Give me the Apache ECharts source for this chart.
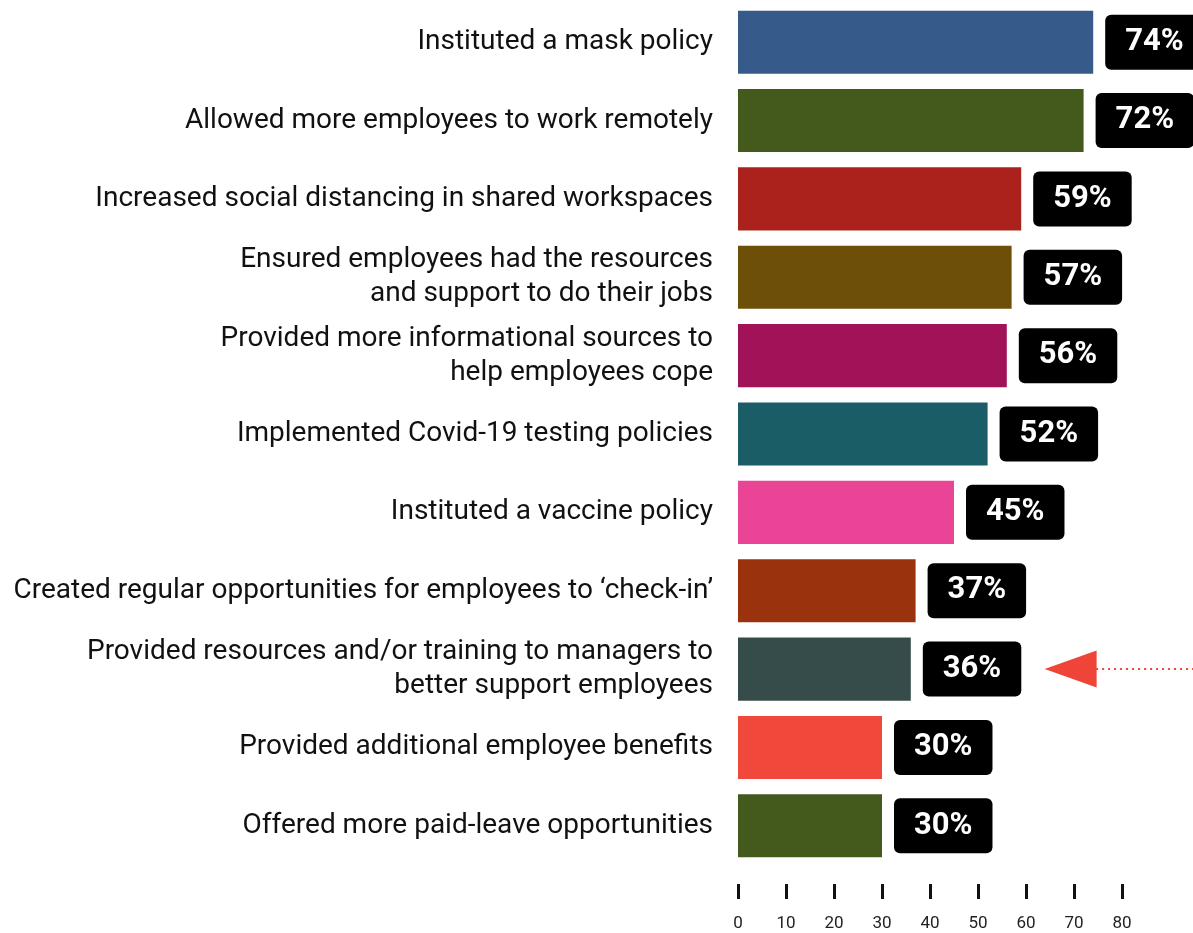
<!DOCTYPE html>
<html>
<head>
<meta charset="utf-8">
<script src="https://cdn.jsdelivr.net/npm/echarts@6/dist/echarts.min.js"></script>
<style>
  html, body { margin: 0; padding: 0; background: #fff; }
  #chart { width: 1193px; height: 933px; }
</style>
</head>
<body>
<div id="chart"></div>
<script>
// Workplace measures taken, share of respondents (%)
const categories = [
  'Instituted a mask policy',
  'Allowed more employees to work remotely',
  'Increased social distancing in shared workspaces',
  'Ensured employees had the resources\nand support to do their jobs',
  'Provided more informational sources to\nhelp employees cope',
  'Implemented Covid-19 testing policies',
  'Instituted a vaccine policy',
  'Created regular opportunities for employees to \u2018check-in\u2019',
  'Provided resources and/or training to managers to\nbetter support employees',
  'Provided additional employee benefits',
  'Offered more paid-leave opportunities'
];
const values = [74, 72, 59, 57, 56, 52, 45, 37, 36, 30, 30];
const barColors = [
  '#365a89', '#445a1c', '#aa221b', '#6d4f08', '#a21259', '#1b5d66',
  '#ea4496', '#9a330d', '#364c4a', '#f0493b', '#445a1c'
];
const xTicks = { min: 0, max: 80, interval: 10 };
// Highlighted row and the pointer that marks it (axis units)
const highlightIndex = 8;
const pointerTip = 69.3;
const pointerLine = [74.6, 96];
const pointerColor = '#ef4539';

const chart = echarts.init(document.getElementById('chart'), null, { renderer: 'canvas' });

chart.setOption({
  animation: false,
  backgroundColor: '#ffffff',
  textStyle: { fontFamily: 'Roboto' },
  grid: { left: 738, right: 71, top: 3, bottom: 68, containLabel: false },
  xAxis: {
    type: 'value',
    min: xTicks.min,
    max: xTicks.max,
    interval: xTicks.interval,
    offset: 19,
    splitLine: { show: false },
    axisLine: { show: false },
    axisTick: { show: true, length: 15, lineStyle: { color: '#111', width: 3 } },
    axisLabel: { color: '#222', fontSize: 17, fontFamily: 'Roboto', margin: 31 }
  },
  yAxis: {
    type: 'category',
    inverse: true,
    data: categories,
    axisLine: { show: false },
    axisTick: { show: false },
    axisLabel: {
      color: '#111',
      fontSize: 28,
      fontFamily: 'Roboto',
      lineHeight: 34,
      margin: 25,
      align: 'right',
      padding: [7, 0, 0, 0]
    }
  },
  series: [{
    type: 'bar',
    barCategoryGap: '19.5%',
    data: values.map((v, i) => ({ value: v, itemStyle: { color: barColors[i] } })),
    label: {
      show: true,
      position: 'right',
      distance: 12,
      formatter: '{c}%',
      color: '#fff',
      fontSize: 31,
      fontWeight: 'bold',
      fontFamily: 'Roboto',
      backgroundColor: '#000',
      borderRadius: 6,
      padding: [12, 20, 12, 20]
    },
    markPoint: {
      silent: true,
      symbol: 'triangle',
      symbolRotate: 90,
      symbolSize: [37, 52],
      itemStyle: { color: pointerColor },
      label: { show: false },
      data: [{ coord: [pointerTip, categories[highlightIndex]] }]
    }
  }]
});

// Dotted tail of the pointer runs past the axis range, so place it through the scale
const p0 = chart.convertToPixel({ seriesIndex: 0 }, [pointerLine[0], highlightIndex]);
const p1 = chart.convertToPixel({ seriesIndex: 0 }, [pointerLine[1], highlightIndex]);
chart.setOption({
  graphic: [{
    type: 'line',
    silent: true,
    shape: { x1: p0[0], y1: p0[1], x2: p1[0], y2: p1[1] },
    style: { stroke: pointerColor, lineWidth: 2, lineDash: [2, 4] }
  }]
});
</script>
</body>
</html>
